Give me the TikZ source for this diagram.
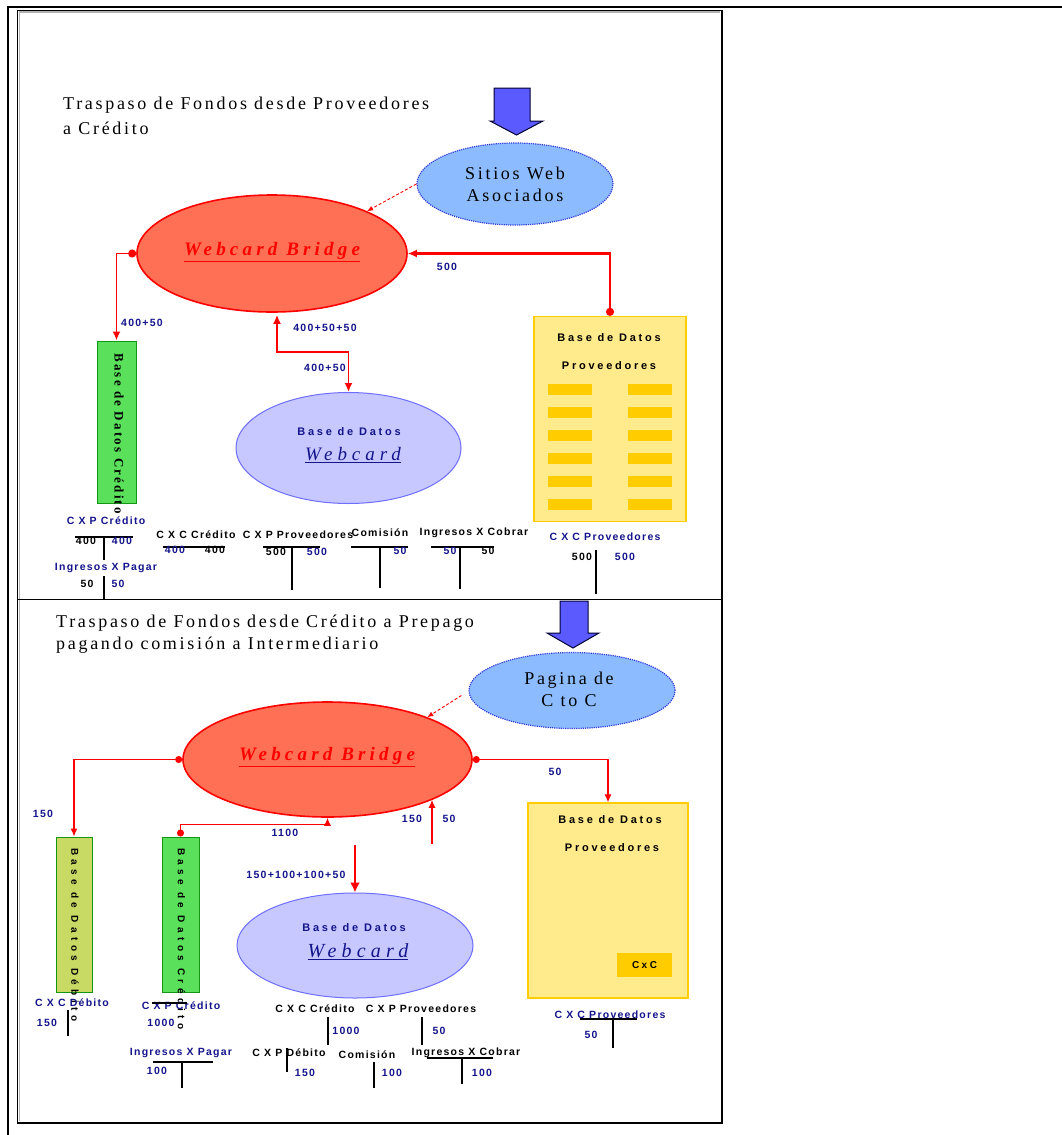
\documentclass[tikz,border=0pt]{standalone}
\usepackage{fontspec}
\usetikzlibrary{shapes.geometric,arrows.meta,calc}
\newfontfamily\ttlfont[LetterSpace=15]{Liberation Serif}
\newfontfamily\wbfont[LetterSpace=22]{Liberation Serif}
\newfontfamily\wcfont[LetterSpace=26]{Liberation Serif}
\newfontfamily\lblfnt[LetterSpace=12]{Liberation Sans}
\newfontfamily\dbfnt[LetterSpace=25]{Liberation Sans}
\newfontfamily\vtfnt[LetterSpace=17]{Liberation Serif}
\newfontfamily\vtsfnt[LetterSpace=44]{Liberation Sans}
\definecolor{navyb}{RGB}{20,20,140}
\definecolor{wbfill}{RGB}{255,112,84}
\definecolor{sitfill}{RGB}{140,188,255}
\definecolor{sitdraw}{RGB}{50,60,220}
\definecolor{dbfill}{RGB}{198,200,255}
\definecolor{dbdraw}{RGB}{110,110,255}
\definecolor{grfill}{RGB}{90,224,90}
\definecolor{grdraw}{RGB}{20,150,20}
\definecolor{olfill}{RGB}{200,218,100}
\definecolor{yefill}{RGB}{255,234,140}
\definecolor{yedraw}{RGB}{255,204,0}
\definecolor{bararrow}{RGB}{90,90,255}
\tikzset{
  lab/.style={font=\lblfnt\bfseries\fontsize{10.5pt}{12pt}\selectfont, inner sep=0pt, text=navyb},
  labk/.style={lab, text=black},
  tln/.style={line width=1.1pt, black},
  ttl/.style={font=\ttlfont\fontsize{18pt}{21pt}\selectfont, inner sep=0pt, anchor=west},
  ettl/.style={font=\ttlfont\fontsize{18pt}{21pt}\selectfont, inner sep=0pt},
  wbtxt/.style={font=\wbfont\bfseries\itshape\fontsize{19pt}{22pt}\selectfont, text=red, inner sep=0pt},
  wctxt/.style={font=\wcfont\itshape\fontsize{19pt}{22pt}\selectfont, text=navyb, inner sep=0pt},
  dbtxt/.style={font=\dbfnt\bfseries\fontsize{11pt}{13pt}\selectfont, inner sep=0pt},
  vtxt/.style={font=\vtfnt\bfseries\fontsize{13pt}{15pt}\selectfont, inner sep=0pt, rotate=-90, anchor=west},
  vstxt/.style={font=\vtsfnt\bfseries\fontsize{10pt}{12pt}\selectfont, inner sep=0pt, rotate=-90, anchor=west},
  wbell/.style={ellipse, draw=red, line width=1.6pt, fill=wbfill, inner sep=0pt},
  sitell/.style={ellipse, draw=sitdraw, line width=1.2pt, densely dotted, fill=sitfill, inner sep=0pt},
  dbell/.style={ellipse, draw=dbdraw, line width=1pt, fill=dbfill, inner sep=0pt},
  grbox/.style={rectangle, draw=grdraw, line width=1pt, fill=grfill, inner sep=0pt},
  yebox/.style={rectangle, draw=yedraw, line width=1.3pt, fill=yefill, inner sep=0pt},
  ybar/.style={rectangle, fill=yedraw, minimum width=44pt, minimum height=11pt, inner sep=0pt},
  rconn/.style={draw=red, line width=1.8pt, {Circle[length=8pt]}-{Latex[length=9pt,width=8pt]}},
  rconnb/.style={draw=red, line width=1.2pt, {Circle[length=7pt]}-{Latex[length=8pt,width=7pt]}},
  blkarrow/.style={fill=bararrow, draw=black!80!blue, line width=1pt}
}
\begin{document}
\begin{tikzpicture}[x=1pt,y=-1pt]
\useasboundingbox (0,0) rectangle (1062,1135);
\fill[white] (0,0) rectangle (1062,1135);
% frames
\draw[line width=2pt] (8,1135) -- (8,7) -- (1062,7);
\draw[gray!60, line width=1.2pt] (19.5,1121) -- (19.5,12) -- (720,12);
\draw[line width=1.4pt] (17.5,10.5) rectangle (722,1123);
\draw[line width=1.4pt] (17.5,599.5) -- (722,599.5);

% ================= TOP PANEL =================
\node[ttl] (t1a) at (63,105) {Traspaso de Fondos desde Proveedores};
\node[ttl] (t1b) at (63,128) {a Crédito};

\draw[blkarrow] (494,88) -- (530,88) -- (530,121) -- (543,121) -- (516.5,135) -- (490,121) -- (494,121) -- cycle;

\node[sitell, minimum width=196pt, minimum height=82pt] (sit) at (515,184) {};
\node[ettl] (sita) at (515,173) {Sitios Web};
\node[ettl] (sitb) at (515,195) {Asociados};

\node[wbell, minimum width=270pt, minimum height=117pt] (wb) at (272,253.5) {};
\node[wbtxt] (wbt) at (272,252) {\underline{Webcard Bridge}};

\node[grbox, minimum width=39pt, minimum height=162pt] (cred) at (116.5,422) {};
\node[vtxt] (credt) at (119,353) {Base de Datos Crédito};

\node[dbell, minimum width=225pt, minimum height=111pt] (wdb) at (348.5,448) {};
\node[dbtxt, text=navyb] (wdba) at (349,432) {Base de Datos};
\node[wctxt] (wdbb) at (353,455) {\underline{Webcard}};

\node[yebox, minimum width=152pt, minimum height=205pt] (prov) at (610,419) {};
\node[dbtxt] (prova) at (609,338) {Base de Datos};
\node[dbtxt] (provb) at (609,366) {Proveedores};
\foreach \i/\yy in {1/389,2/412,3/435,4/458,5/481,6/504}{
  \node[ybar] (bl\i) at (570,\yy) {};
  \node[ybar] (br\i) at (650,\yy) {};
}

% connectors top
\draw[red, line width=0.9pt, densely dashed, -{Latex[length=6pt,width=5pt]}] (sit.west) -- (wb.24);
\draw[rconn] (wb.west) -| (cred.north);
\draw[rconn, line width=2.4pt] (prov.north) |- (wb.east);
\draw[draw=red, line width=1.8pt, {Latex[length=9pt,width=8pt]}-{Latex[length=9pt,width=8pt]}] ($(wb.south)+(5,2)$) |- (313,352) -| (wdb.north);

\node[lab] (l400a) at (142,323) {400+50};
\node[lab] (l500a) at (447,267) {500};
\node[lab] (l450a) at (325,328) {400+50+50};
\node[lab] (l450b) at (325,368) {400+50};

% T accounts top
\node[lab] (acp1) at (106,521) {C X P Crédito};
\draw[tln] (75,537) -- (133,537);
\draw[tln] (104,537) -- (104,560);
\node[labk] (acp1l) at (86,541) {400};
\node[lab] (acp1r) at (122,541) {400};
\node[lab] (aip1) at (106,568) {Ingresos X Pagar};
\draw[tln] (104,576) -- (104,600);
\node[labk] (aip1l) at (87,584) {50};
\node[lab] (aip1r) at (118,584) {50};

\node[labk] (acc1) at (196,535) {C X C Crédito};
\draw[tln] (163,547) -- (225,547);
\node[lab] (acc1l) at (175,550) {400};
\node[labk] (acc1r) at (215,550) {400};

\node[labk] (acpp1) at (298,535) {C X P Proveedores};
\draw[tln] (263,547) -- (320,547);
\draw[tln] (292,547) -- (292,590);
\node[labk] (acpp1l) at (276,552) {500};
\node[lab] (acpp1r) at (317,552) {500};

\node[labk] (acom1) at (380,533) {Comisión};
\draw[tln] (351,547) -- (408,547);
\draw[tln] (380,547) -- (380,588);
\node[lab] (acom1r) at (400,551) {50};

\node[labk] (aic1) at (474,533) {Ingresos X Cobrar};
\draw[tln] (431,547) -- (494,547);
\draw[tln] (460,547) -- (460,589);
\node[lab] (aic1l) at (450,551) {50};
\node[labk] (aic1r) at (488,551) {50};

\node[lab] (accp1) at (605,537) {C X C Proveedores};
\draw[tln] (596,550) -- (596,594);
\node[labk] (accp1l) at (582,557) {500};
\node[lab] (accp1r) at (625,557) {500};

% ================= BOTTOM PANEL =================
\node[ttl] (t2a) at (56,623) {Traspaso de Fondos desde Crédito a Prepago};
\node[ttl] (t2b) at (56,645) {pagando comisión a Intermediario};

\draw[blkarrow] (560,601) -- (588,601) -- (588,633) -- (599,633) -- (573,648) -- (547,633) -- (560,633) -- cycle;

\node[sitell, minimum width=206pt, minimum height=76pt] (pag) at (572,690.5) {};
\node[ettl] (paga) at (569,680) {Pagina de};
\node[ettl] (pagb) at (569,701) {C to C};

\node[wbell, minimum width=289pt, minimum height=115pt] (wb2) at (327.5,759.5) {};
\node[wbtxt] (wb2t) at (327,757) {\underline{Webcard Bridge}};

\node[grbox, fill=olfill, minimum width=36pt, minimum height=155pt] (deb) at (74,914.5) {};
\node[vstxt] (debt) at (75,848) {Base de Datos Débito};
\node[grbox, minimum width=37pt, minimum height=155pt] (cre2) at (180.5,914.5) {};
\node[vstxt] (cre2t) at (181.5,848) {Base de Datos Crédito};

\node[dbell, minimum width=236pt, minimum height=105pt] (wdb2) at (355,945.5) {};
\node[dbtxt, text=navyb] (wdb2a) at (354,928) {Base de Datos};
\node[wctxt, font=\wcfont\itshape\fontsize{20pt}{22pt}\selectfont] (wdb2b) at (358,952) {\underline{Webcard}};

\node[yebox, minimum width=160pt, minimum height=195pt] (prov2) at (608,900.5) {};
\node[dbtxt] (prov2a) at (610,820) {Base de Datos};
\node[dbtxt] (prov2b) at (612,848) {Proveedores};
\node[rectangle, fill=yedraw, minimum width=55pt, minimum height=24pt, inner sep=0pt, font=\dbfnt\bfseries\fontsize{10pt}{12pt}\selectfont] (cxc) at (644.5,965) {CxC};

% connectors bottom
\draw[red, line width=0.9pt, densely dashed, -{Latex[length=6pt,width=5pt]}] ($(pag.west)+(-7,5)$) -- (wb2.23);
\draw[rconnb] (wb2.west) -| (deb.north);
\draw[rconnb] (wb2.east) -| (prov2.north);
\draw[rconnb] (cre2.north) -- ++(0,-12) -| (wb2.south);
\coordinate (u2) at (432,844);
\draw[draw=red, line width=1.2pt, -{Latex[length=8pt,width=7pt]}] (u2) -- (u2 |- wb2.-21);
\coordinate (d2) at (355,845);
\draw[draw=red, line width=2.4pt, -{Latex[length=10pt,width=10pt]}] (d2) -- (wdb2.north);

\node[lab] (l150a) at (43,814) {150};
\node[lab] (l50a) at (555,772) {50};
\node[lab] (l1100) at (285,833) {1100};
\node[lab] (l150b) at (412,819) {150};
\node[lab] (l50b) at (449,819) {50};
\node[lab] (lsum) at (296,875) {150+100+100+50};

% T accounts bottom
\node[lab] (acd2) at (72,1003) {C X C Débito};
\draw[tln] (68,1010) -- (68,1036);
\node[lab] (acd2l) at (47,1023) {150};

\node[lab] (acp2) at (181,1006) {C X P Crédito};
\draw[tln] (152,1003) -- (187,1003);
\node[lab] (acp2l) at (161,1023) {1000};

\node[lab] (aip2) at (181,1053) {Ingresos X Pagar};
\draw[tln] (153,1062) -- (213,1062);
\draw[tln] (182,1062) -- (182,1088);
\node[lab] (aip2l) at (157,1071) {100};

\node[labk] (acc2) at (315,1009) {C X C Crédito};
\draw[tln] (328,1017) -- (328,1045);
\node[lab] (acc2r) at (346,1031) {1000};

\node[labk] (acpp2) at (421,1009) {C X P Proveedores};
\draw[tln] (422,1017) -- (422,1045);
\node[lab] (acpp2r) at (439,1031) {50};

\node[labk] (acpd2) at (289,1053) {C X P Débito};
\draw[tln] (287,1048) -- (287,1072);
\node[lab] (acpd2r) at (305,1073) {150};

\node[labk] (acom2) at (367,1055) {Comisión};
\draw[tln] (374,1062) -- (374,1088);
\node[lab] (acom2r) at (392,1073) {100};

\node[labk] (aic2) at (466,1053) {Ingresos X Cobrar};
\draw[tln] (427,1058) -- (493,1058);
\draw[tln] (462,1058) -- (462,1084);
\node[lab] (aic2r) at (482,1073) {100};

\node[lab] (accp2) at (610,1015) {C X C Proveedores};
\draw[tln] (580,1019) -- (637,1019);
\draw[tln] (613,1019) -- (613,1048);
\node[lab] (accp2l) at (591,1035) {50};
\end{tikzpicture}
\end{document}
